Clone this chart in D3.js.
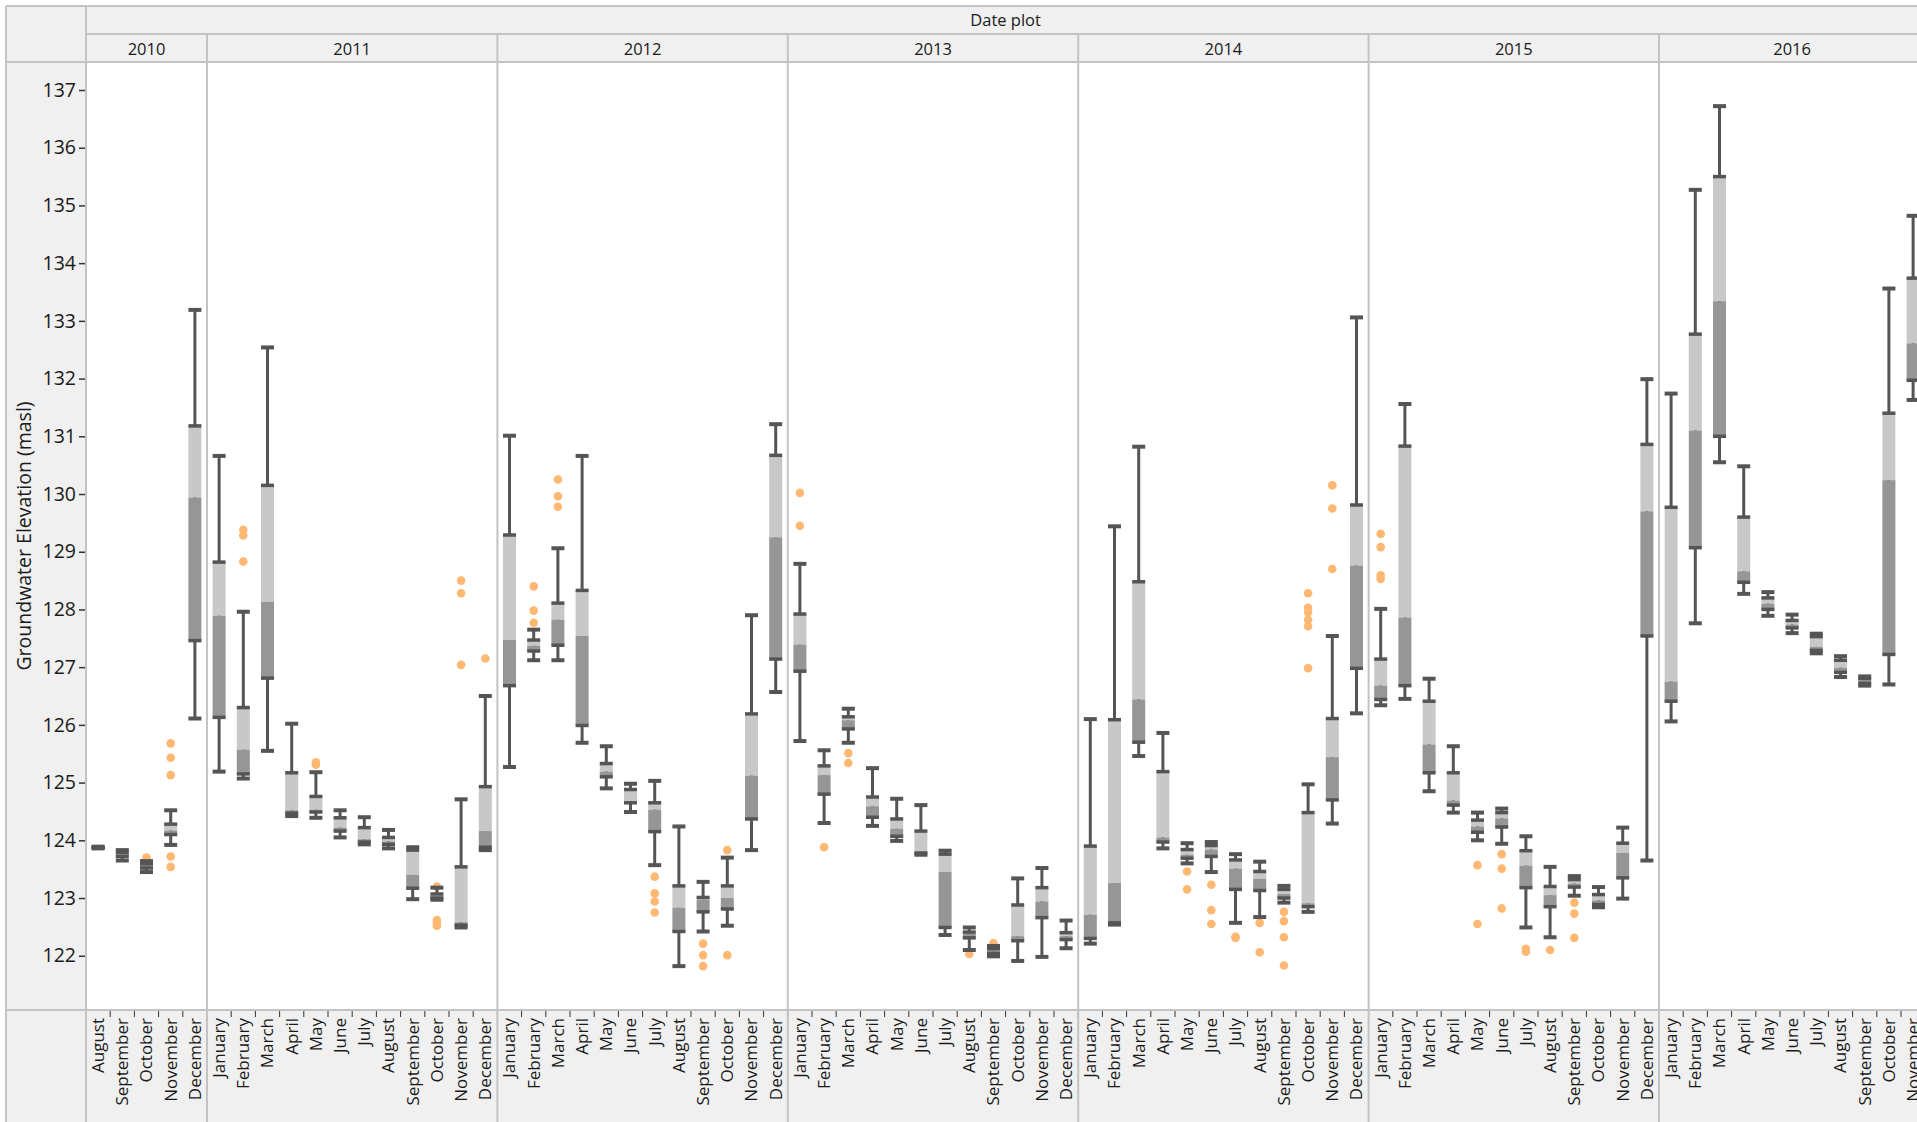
<!DOCTYPE html>
<html><head><meta charset="utf-8">
<script src="https://cdn.jsdelivr.net/npm/d3@7"></script>
<style>
html,body{margin:0;padding:0;background:#fff;overflow:hidden;}
svg{display:block;font-family:"Open Sans","Noto Sans",sans-serif;}
</style>
</head><body>
<svg id="chart" width="1917" height="1122"></svg>
<script>
// ---------------- DATA ----------------
const years = ["2010","2011","2012","2013","2014","2015","2016"];
const monthNames = ["January","February","March","April","May","June","July","August","September","October","November","December"];
const yearFirstMonth = [7,0,0,0,0,0,0];
const yearMonthCount = [5,12,12,12,12,12,11];
const yTicks = [122,123,124,125,126,127,128,129,130,131,132,133,134,135,136,137];

const whiskerHigh = [
  123.89,123.83,123.64,124.52,133.19,
  130.66,127.96,132.54,126.02,125.18,124.52,124.40,124.18,123.88,123.18,124.71,126.50,
  131.01,127.65,129.06,130.66,125.63,124.98,125.03,124.24,123.28,123.70,127.90,131.21,
  128.79,125.56,126.28,125.25,124.72,124.61,123.82,122.49,122.17,123.34,123.52,122.61,
  126.10,129.44,130.82,125.86,123.95,123.97,123.76,123.63,123.21,124.97,127.54,133.06,
  128.01,131.56,126.80,125.63,124.48,124.55,124.07,123.54,123.38,123.19,124.22,131.99,
  131.74,135.27,136.72,130.48,128.30,127.91,127.58,127.19,126.84,133.56,134.82
];
const q3 = [
  123.88,123.79,123.59,124.28,131.18,
  128.82,126.30,130.15,125.17,124.76,124.39,124.22,124.05,123.83,123.07,123.54,124.93,
  129.29,127.47,128.11,128.33,125.33,124.88,124.65,123.21,123.01,123.21,126.19,130.67,
  127.92,125.29,126.14,124.75,124.37,124.16,123.76,122.41,122.12,122.88,123.18,122.40,
  123.90,126.09,128.48,125.19,123.84,123.91,123.66,123.46,123.15,124.48,126.11,129.81,
  127.14,130.83,126.41,125.17,124.35,124.48,123.82,123.20,123.32,123.06,123.95,130.86,
  129.77,132.77,135.50,129.60,128.20,127.81,127.53,127.12,126.80,131.40,133.74
];
const median = [
  123.87,123.76,123.55,124.17,129.94,
  127.89,125.57,128.13,124.52,124.53,124.22,124.02,123.98,123.40,123.03,122.58,124.16,
  127.47,127.37,127.82,127.54,125.19,124.67,124.53,122.83,122.97,123.00,125.12,129.25,
  127.39,125.13,126.08,124.59,124.20,123.80,123.45,122.38,122.08,122.34,122.94,122.34,
  122.71,123.26,126.44,124.05,123.75,123.84,123.51,123.33,123.07,122.91,125.44,128.76,
  126.68,127.86,125.66,124.69,124.24,124.38,123.56,123.05,123.25,122.96,123.78,129.70,
  126.75,131.10,133.34,128.66,128.10,127.74,127.35,126.99,126.76,130.24,132.61
];
const q1 = [
  123.87,123.72,123.52,124.10,127.46,
  126.13,125.15,126.81,124.47,124.49,124.16,123.97,123.93,123.17,123.00,122.53,123.88,
  126.68,127.28,127.38,125.99,125.10,124.65,124.15,122.42,122.76,122.81,124.37,127.14,
  126.93,124.80,125.93,124.40,124.07,123.78,122.49,122.31,122.04,122.26,122.66,122.28,
  122.30,122.57,125.70,123.97,123.69,123.72,123.15,123.13,123.00,122.85,124.70,126.98,
  126.44,126.68,125.17,124.61,124.14,124.23,123.18,122.85,123.19,122.89,123.35,127.54,
  126.41,129.07,131.00,128.47,128.00,127.68,127.29,126.91,126.72,127.22,131.97
];
const whiskerLow = [
  123.86,123.65,123.45,123.92,126.11,
  125.19,125.07,125.55,124.42,124.39,124.05,123.93,123.86,122.98,122.97,122.49,123.83,
  125.27,127.12,127.12,125.69,124.90,124.49,123.57,121.82,122.42,122.52,123.83,126.57,
  125.72,124.30,125.69,124.25,123.99,123.75,122.36,122.10,121.99,121.91,121.98,122.13,
  122.21,122.54,125.46,123.86,123.60,123.45,122.57,122.67,122.92,122.76,124.29,126.20,
  126.34,126.45,124.85,124.48,124.00,123.94,122.49,122.32,123.04,122.84,122.99,123.65,
  126.06,127.76,130.55,128.27,127.89,127.59,127.24,126.83,126.68,126.70,131.63
];
const outliers = [
  [],[],[123.70],[125.68,125.43,125.13,123.72,123.54],[],
  [],[129.38,129.28,128.83],[],[],[125.35,125.31],[],[],[],[],[123.20,122.62,122.57,122.52],[128.50,128.28,127.04],[127.15],
  [],[128.40,127.98,127.77],[130.25,129.96,129.78],[],[],[],[123.37,123.08,122.94,122.75],[],[122.21,122.01,121.82],[123.83,122.01],[],[],
  [130.02,129.45],[123.88],[125.51,125.34],[],[],[],[],[122.03],[122.22],[],[],[],
  [],[],[],[],[123.46,123.15],[123.23,122.79,122.55],[122.33,122.31],[122.57,122.06],[122.76,122.60,122.32,121.83],[128.28,128.03,127.95,127.82,127.71,126.98],[130.15,129.75,128.70],[],
  [129.31,129.08,128.59,128.53],[],[],[],[123.57,122.55],[123.76,123.51,122.82],[122.12,122.07],[122.10],[122.92,122.73,122.31],[],[],[],
  [],[],[],[],[],[],[],[],[],[],[]
];

// ---------------- LAYOUT ----------------
const W = 1917, H = 1122;
const outerL = 6, outerT = 6;
const plotL = 86, plotT = 62, plotB = 1010, headMid = 34;
const monthW = 24.2;
const boxW = 13;
const cDark = "#555555", cLight = "#c8c8c8", cMid = "#969696", cOut = "#ffb872";
const cPanel = "#f0f0f0", cBorder = "#c3c3c3", cText = "#1a1a1a";

const svg = d3.select("#chart");
const totalMonths = d3.sum(yearMonthCount);
const plotR = plotL + totalMonths * monthW;

const y = d3.scaleLinear().domain([121.06, 137.485]).range([plotB, plotT]);

// panels
let cum = 0;
const panels = years.map((yr, i) => {
  const ms = monthNames.slice(yearFirstMonth[i], yearFirstMonth[i] + yearMonthCount[i]);
  const x0 = plotL + cum * monthW;
  cum += yearMonthCount[i];
  const x1 = plotL + cum * monthW;
  const xs = d3.scaleBand().domain(ms).range([x0, x1]).padding(0);
  return {yr, ms, x0, x1, xs};
});

// boxes list
const boxes = [];
panels.forEach(p => p.ms.forEach(m => {
  const k = boxes.length;
  boxes.push({cx: p.xs(m) + p.xs.bandwidth() / 2, hi: whiskerHigh[k], q3: q3[k], med: median[k], q1: q1[k], lo: whiskerLow[k], out: outliers[k]});
}));

// backgrounds
svg.append("rect").attr("x", outerL).attr("y", outerT).attr("width", W).attr("height", H).attr("fill", cPanel);
svg.append("rect").attr("x", plotL).attr("y", plotT).attr("width", plotR - plotL).attr("height", plotB - plotT).attr("fill", "#fff");

// header text
svg.append("text").attr("x", (plotL + plotR) / 2).attr("y", (outerT + headMid) / 2 + 2)
  .attr("text-anchor", "middle").attr("dominant-baseline", "middle")
  .attr("font-size", 16.5).attr("fill", cText).text("Date plot");
panels.forEach(p => {
  svg.append("text").attr("x", (p.x0 + p.x1) / 2).attr("y", (headMid + plotT) / 2 + 3)
    .attr("text-anchor", "middle").attr("dominant-baseline", "middle")
    .attr("font-size", 16.5).attr("fill", cText).text(p.yr);
});

// y axis
const yAxis = d3.axisLeft(y).tickValues(yTicks).tickSize(7).tickPadding(3).tickFormat(d3.format("d"));
const ga = svg.append("g").attr("transform", `translate(${plotL},0)`).call(yAxis);
ga.select(".domain").remove();
ga.selectAll(".tick line").attr("stroke", "#333").attr("stroke-width", 1.5);
ga.selectAll(".tick text").attr("font-size", 19.5).attr("fill", cText).attr("font-family", "Open Sans, sans-serif");

svg.append("text").attr("transform", `translate(26,${(plotT + plotB) / 2}) rotate(-90)`)
  .attr("text-anchor", "middle").attr("dominant-baseline", "middle")
  .attr("font-size", 19.5).attr("fill", cText).text("Groundwater Elevation (masl)");

// x axes (month labels)
panels.forEach(p => {
  const g = svg.append("g").attr("transform", `translate(0,${plotB})`);
  g.call(d3.axisBottom(p.xs).tickSize(0).tickPadding(0));
  g.select(".domain").remove();
  g.selectAll(".tick text")
    .attr("font-size", 17).attr("fill", cText).attr("font-family", "Open Sans, sans-serif")
    .attr("transform", "rotate(-90)").attr("text-anchor", "end")
    .attr("x", -8).attr("y", 0).attr("dy", "0.35em");
  g.selectAll("line.bt").data(p.ms).enter().append("line")
    .attr("x1", d => p.xs(d) + p.xs.bandwidth()).attr("x2", d => p.xs(d) + p.xs.bandwidth())
    .attr("y1", 1).attr("y2", 7).attr("stroke", "#333").attr("stroke-width", 1);
});

// outliers (behind boxes)
const gb = svg.append("g");
boxes.forEach(b => {
  b.out.forEach(v => {
    gb.append("circle").attr("cx", b.cx).attr("cy", y(v)).attr("r", 4.3).attr("fill", cOut);
  });
});

// boxes
boxes.forEach(b => {
  gb.append("line").attr("x1", b.cx).attr("x2", b.cx).attr("y1", y(b.hi)).attr("y2", y(b.lo))
    .attr("stroke", cDark).attr("stroke-width", 3);
  gb.append("rect").attr("x", b.cx - boxW / 2).attr("width", boxW)
    .attr("y", y(b.q3)).attr("height", Math.max(0, y(b.med) - y(b.q3))).attr("fill", cLight);
  gb.append("rect").attr("x", b.cx - boxW / 2).attr("width", boxW)
    .attr("y", y(b.med)).attr("height", Math.max(0, y(b.q1) - y(b.med))).attr("fill", cMid);
  [b.q3, b.q1].forEach(v => gb.append("line").attr("x1", b.cx - boxW / 2).attr("x2", b.cx + boxW / 2)
    .attr("y1", y(v)).attr("y2", y(v)).attr("stroke", cDark).attr("stroke-width", 3.5));
  [b.hi, b.lo].forEach(v => gb.append("line").attr("x1", b.cx - boxW / 2).attr("x2", b.cx + boxW / 2)
    .attr("y1", y(v)).attr("y2", y(v)).attr("stroke", cDark).attr("stroke-width", 4));
});

// frame / separators
const gl = svg.append("g").attr("stroke", cBorder).attr("stroke-width", 2).attr("fill", "none");
gl.append("line").attr("x1", outerL).attr("x2", W).attr("y1", outerT).attr("y2", outerT);
gl.append("line").attr("x1", outerL).attr("x2", outerL).attr("y1", outerT).attr("y2", H);
gl.append("line").attr("x1", plotL).attr("x2", W).attr("y1", headMid).attr("y2", headMid);
gl.append("line").attr("x1", outerL).attr("x2", W).attr("y1", plotT).attr("y2", plotT);
gl.append("line").attr("x1", outerL).attr("x2", W).attr("y1", plotB).attr("y2", plotB);
gl.append("line").attr("x1", plotL).attr("x2", plotL).attr("y1", outerT).attr("y2", H);
panels.forEach(p => {
  gl.append("line").attr("x1", p.x1).attr("x2", p.x1).attr("y1", headMid).attr("y2", H);
});
</script>
</body></html>
